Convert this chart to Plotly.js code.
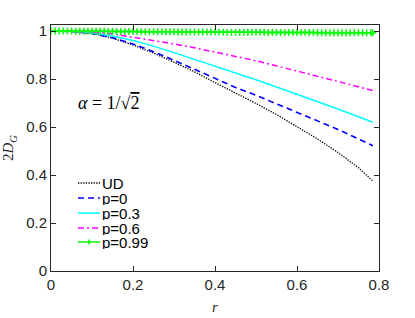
<!DOCTYPE html>
<html>
<head>
<meta charset="utf-8">
<script src="https://cdn.plot.ly/plotly-3.0.1.min.js"></script>
<style>html,body{margin:0;padding:0;background:#fff;}#chart{width:415px;height:318px;}</style>
</head>
<body>
<div id="chart"></div>
<script>
const r = [0, 0.05, 0.1, 0.15, 0.2, 0.25, 0.3, 0.35, 0.4, 0.45, 0.5, 0.55, 0.6, 0.65, 0.7, 0.75, 0.785];
const UD   = [1, 0.998, 0.99, 0.97, 0.942, 0.908, 0.870, 0.830, 0.785, 0.742, 0.698, 0.652, 0.602, 0.550, 0.494, 0.430, 0.375];
const p0   = [1, 0.998, 0.99, 0.972, 0.946, 0.914, 0.878, 0.840, 0.800, 0.765, 0.732, 0.697, 0.662, 0.625, 0.590, 0.550, 0.522];
const p03  = [1, 0.999, 0.993, 0.979, 0.960, 0.937, 0.910, 0.882, 0.855, 0.826, 0.797, 0.767, 0.737, 0.706, 0.675, 0.643, 0.620];
const p06  = [1, 0.999, 0.996, 0.988, 0.975, 0.960, 0.946, 0.930, 0.913, 0.894, 0.876, 0.855, 0.832, 0.811, 0.790, 0.768, 0.752];
const rFine = [0,0.01,0.02,0.03,0.04,0.05,0.06,0.07,0.08,0.09,0.10,0.11,0.12,0.13,0.14,0.15,0.16,0.17,0.18,0.19,
  0.20,0.21,0.22,0.23,0.24,0.25,0.26,0.27,0.28,0.29,0.30,0.31,0.32,0.33,0.34,0.35,0.36,0.37,0.38,0.39,
  0.40,0.41,0.42,0.43,0.44,0.45,0.46,0.47,0.48,0.49,0.50,0.51,0.52,0.53,0.54,0.55,0.56,0.57,0.58,0.59,
  0.60,0.61,0.62,0.63,0.64,0.65,0.66,0.67,0.68,0.69,0.70,0.71,0.72,0.73,0.74,0.75,0.76,0.77,0.78,0.785];
const p099 = [1,1,1,1,1,1,0.999,0.999,0.999,0.999,0.999,0.999,0.999,0.999,0.998,0.998,0.998,0.998,0.998,0.998,
  0.998,0.998,0.997,0.997,0.997,0.997,0.997,0.997,0.997,0.997,0.997,0.996,0.996,0.996,0.996,0.996,0.996,0.996,0.996,0.996,
  0.996,0.996,0.995,0.995,0.995,0.995,0.995,0.995,0.995,0.995,0.995,0.995,0.995,0.994,0.994,0.994,0.994,0.994,0.994,0.994,
  0.994,0.994,0.994,0.994,0.994,0.993,0.993,0.993,0.993,0.993,0.993,0.993,0.993,0.993,0.993,0.993,0.993,0.993,0.993,0.993];
const names = ['UD', 'p=0', 'p=0.3', 'p=0.6', 'p=0.99'];
const xTicks = [0, 0.2, 0.4, 0.6, 0.8];
const xTickText = ['0', '0.2', '0.4', '0.6', '0.8'];
const yTicks = [0, 0.2, 0.4, 0.6, 0.8, 1];
const yTickText = ['0', '0.2', '0.4', '0.6', '0.8', '1'];

const styles = [
  {color: '#000000', width: 1.3, dash: '1.3px,1.3px'},
  {color: '#0000ff', width: 1.6, dash: '6px,4px'},
  {color: '#00ffff', width: 1.5, dash: 'solid'},
  {color: '#ff00ff', width: 1.5, dash: '6px,3px,2px,3px'},
  {color: '#00ff00', width: 1.5, dash: 'solid'}
];
const series = [[r, UD], [r, p0], [r, p03], [r, p06], [rFine, p099]];

const traces = series.map((s, i) => {
  const t = {x: s[0], y: s[1], name: names[i], mode: 'lines', line: styles[i], showlegend: false};
  if (i === 4) {
    t.mode = 'lines+markers';
    t.marker = {symbol: 'cross-thin-open', size: 5, color: '#00ff00', line: {color: '#00ff00', width: 1.5}};
  }
  return t;
});

// manual legend (paper coords) built from names/styles
const legX0 = (78 - 51) / 328, legX1 = (100 - 51) / 328, legTX = (101 - 51) / 328;
const legRows = [183, 198, 213, 228, 242].map(py => (271 - py) / 246);
const shapes = [];
const annotations = [];
names.forEach((n, i) => {
  shapes.push({type: 'line', xref: 'paper', yref: 'paper', x0: legX0, x1: legX1, y0: legRows[i], y1: legRows[i],
               line: {color: styles[i].color, width: styles[i].width, dash: styles[i].dash}});
  annotations.push({xref: 'paper', yref: 'paper', x: legTX, y: legRows[i], xanchor: 'left', yanchor: 'middle',
                    showarrow: false, text: n, borderpad: 0, height: 14, valign: 'middle',
                    font: {family: 'Liberation Sans, Arial, sans-serif', size: 15, color: '#000'}});
});
// green marker in the legend sample
const mx = (89 - 51) / 328, my = legRows[4];
shapes.push({type: 'line', xref: 'paper', yref: 'paper', x0: mx, x1: mx, y0: my - 2.5 / 246, y1: my + 2.5 / 246,
             line: {color: '#00ff00', width: 1.5}});

annotations.push({
  xref: 'paper', yref: 'paper', x: (77 - 51) / 328, y: (271 - 103) / 246, xanchor: 'left', yanchor: 'middle', showarrow: false,
  text: '<i>α</i> = 1/√<span style="text-decoration:overline">2</span>', borderpad: 0,
  font: {family: 'Liberation Serif, serif', size: 18, color: '#000'}
});

const axisCommon = {
  showgrid: false, zeroline: false, showline: true, linecolor: '#262626', linewidth: 1,
  mirror: 'ticks', ticks: 'inside', ticklen: 5, tickcolor: '#262626', tickwidth: 1,
  tickfont: {family: 'Liberation Sans, Arial, sans-serif', size: 15, color: '#262626'}
};

const layout = {
  width: 415, height: 318,
  margin: {l: 51, r: 36, t: 25, b: 47},
  paper_bgcolor: '#ffffff', plot_bgcolor: '#ffffff',
  xaxis: Object.assign({}, axisCommon, {
    range: [0, 0.8], tickvals: xTicks, ticktext: xTickText,
    title: {text: '<i>r</i>', font: {family: 'Liberation Serif, serif', size: 15, color: '#262626'}, standoff: 9}
  }),
  yaxis: Object.assign({}, axisCommon, {
    range: [0, 1.025], tickvals: yTicks, ticktext: yTickText,
    title: {text: '2<i>D</i><sub><i>G</i></sub>', font: {family: 'Liberation Serif, serif', size: 15, color: '#262626'}, standoff: 8}
  }),
  showlegend: false,
  shapes: shapes,
  annotations: annotations
};

Plotly.newPlot('chart', traces, layout, {displayModeBar: false, staticPlot: true});
</script>
</body>
</html>
